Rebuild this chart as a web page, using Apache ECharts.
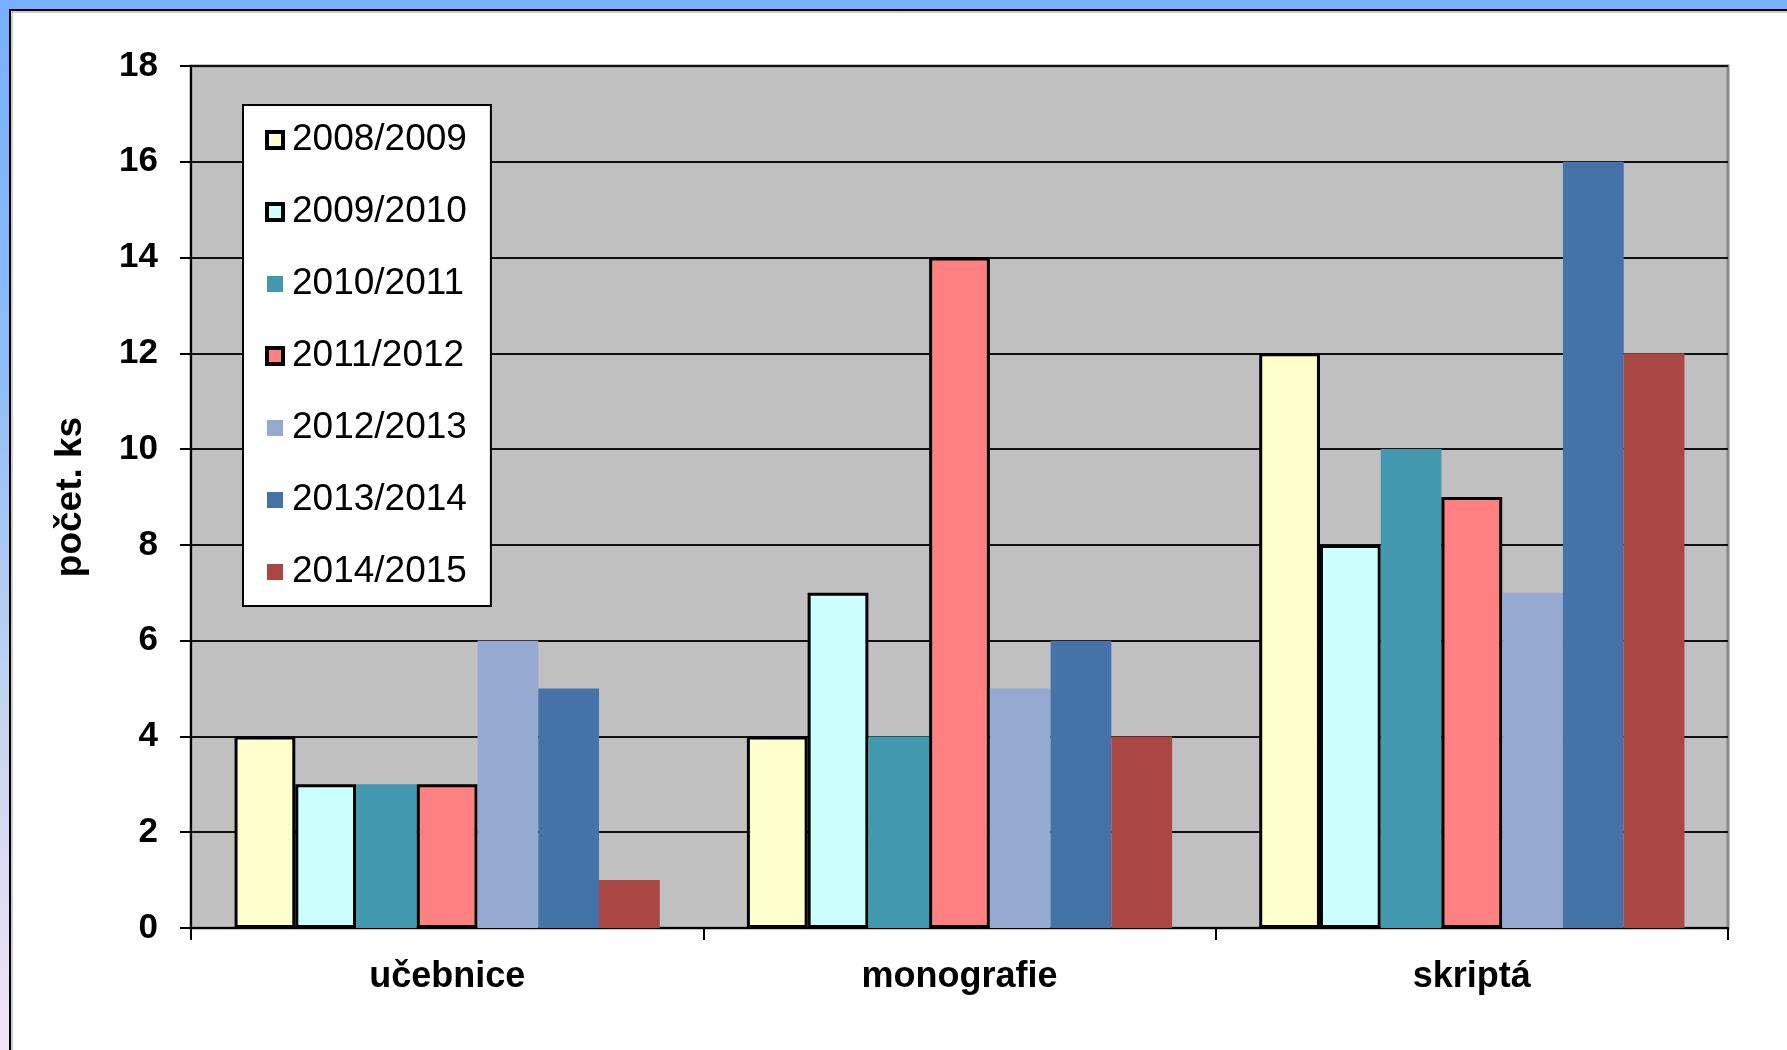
<!DOCTYPE html>
<html>
<head>
<meta charset="utf-8">
<script src="https://cdn.jsdelivr.net/npm/echarts@6/dist/echarts.min.js"></script>
<style>
html,body{margin:0;padding:0;background:#fff;}
#chart{width:1787px;height:1050px;}
</style>
</head>
<body>
<div id="chart"></div>
<script>
var categories = ['učebnice', 'monografie', 'skriptá'];
var seriesNames = ['2008/2009', '2009/2010', '2010/2011', '2011/2012', '2012/2013', '2013/2014', '2014/2015'];
var s2008 = [4, 4, 12];
var s2009 = [3, 7, 8];
var s2010 = [3, 4, 10];
var s2011 = [3, 14, 9];
var s2012 = [6, 5, 7];
var s2013 = [5, 6, 16];
var s2014 = [1, 4, 12];
var yTicks = {min: 0, max: 18, interval: 2};
var yTitle = 'počet. ks';

var values = [s2008, s2009, s2010, s2011, s2012, s2013, s2014];
var colors = ['#FFFFCC', '#CCFFFF', '#4299B0', '#FF8080', '#95A9D1', '#4572A7', '#AA4643'];
var bordered = [true, true, false, true, false, false, false];

var chart = echarts.init(document.getElementById('chart'));
var FONT = '"Liberation Sans", Arial, sans-serif';

var series = seriesNames.map(function (name, i) {
  return {
    name: name,
    type: 'bar',
    data: values[i],
    barGap: '0%',
    barCategoryGap: '17%',
    itemStyle: {
      color: colors[i],
      borderColor: bordered[i] ? '#000' : colors[i],
      borderWidth: bordered[i] ? 3 : 0
    },
    emphasis: {disabled: true}
  };
});

var legendData = seriesNames.map(function (name, i) {
  return {
    name: name,
    itemStyle: {
      color: colors[i],
      borderColor: bordered[i] ? '#000' : colors[i],
      borderWidth: bordered[i] ? 4 : 0
    }
  };
});

chart.setOption({
  animation: false,
  backgroundColor: '#ffffff',
  textStyle: {fontFamily: FONT},
  graphic: [
    {type: 'rect', shape: {x: 0, y: 0, width: 1787, height: 9}, style: {fill: '#76B0FF'}, z: 100},
    {type: 'rect', shape: {x: 0, y: 0, width: 9, height: 1050}, style: {
      fill: new echarts.graphic.LinearGradient(0, 0, 0, 1, [
        {offset: 0, color: '#76B0FF'},
        {offset: 0.35, color: '#8EBCF8'},
        {offset: 0.7, color: '#C8D6F0'},
        {offset: 1, color: '#F3E4F5'}
      ])
    }, z: 100},
    {type: 'line', shape: {x1: 9, y1: 10, x2: 1787, y2: 10}, style: {stroke: '#000', lineWidth: 2}, z: 101},
    {type: 'line', shape: {x1: 10, y1: 9, x2: 10, y2: 1050}, style: {stroke: '#000', lineWidth: 2}, z: 101},
    {type: 'line', shape: {x1: 12, y1: 12, x2: 1787, y2: 12}, style: {stroke: '#999', lineWidth: 1}, z: 101},
    {type: 'line', shape: {x1: 12, y1: 12, x2: 12, y2: 1050}, style: {stroke: '#999', lineWidth: 1}, z: 101}
  ],
  legend: {
    orient: 'vertical',
    left: 243,
    top: 105,
    backgroundColor: '#ffffff',
    borderColor: '#000',
    borderWidth: 2,
    padding: [16, 24, 15, 22],
    itemWidth: 16,
    itemHeight: 16,
    itemGap: 34,
    icon: 'rect',
    selectedMode: false,
    data: legendData,
    textStyle: {
      fontFamily: FONT,
      fontSize: 37,
      color: '#000',
      lineHeight: 38,
      padding: [0, 0, 0, 4]
    }
  },
  grid: {
    left: 191,
    top: 66,
    right: 59,
    bottom: 122,
    show: true,
    backgroundColor: '#C0C0C0',
    borderColor: '#888888',
    borderWidth: 3
  },
  xAxis: {
    type: 'category',
    data: categories,
    axisLine: {show: true, lineStyle: {color: '#000', width: 2}},
    axisTick: {show: true, length: 12, lineStyle: {color: '#000', width: 2}},
    axisLabel: {
      fontFamily: FONT,
      fontSize: 36,
      fontWeight: 'bold',
      color: '#000',
      margin: 31
    },
    splitLine: {show: false}
  },
  yAxis: {
    type: 'value',
    min: yTicks.min,
    max: yTicks.max,
    interval: yTicks.interval,
    name: yTitle,
    nameLocation: 'middle',
    nameRotate: 90,
    nameGap: 102,
    nameTextStyle: {
      fontFamily: FONT,
      fontSize: 37,
      fontWeight: 'bold',
      color: '#000'
    },
    axisLine: {show: true, lineStyle: {color: '#000', width: 2}},
    axisTick: {show: true, length: 11, lineStyle: {color: '#000', width: 2}},
    axisLabel: {
      fontFamily: FONT,
      fontSize: 35,
      fontWeight: 'bold',
      color: '#000',
      margin: 33
    },
    splitLine: {show: true, lineStyle: {color: '#111', width: 2}}
  },
  series: series
});
</script>
</body>
</html>
